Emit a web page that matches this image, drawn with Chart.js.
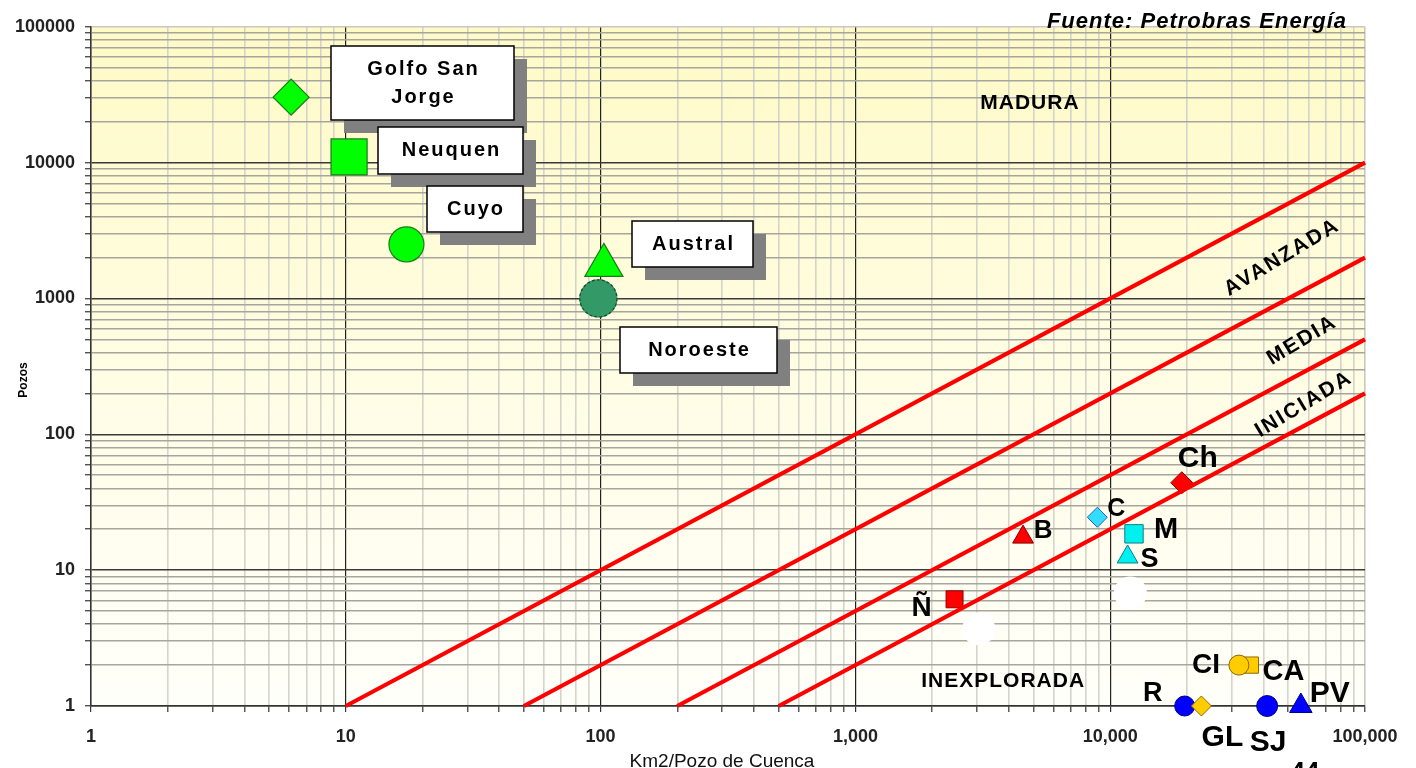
<!DOCTYPE html>
<html>
<head>
<meta charset="utf-8">
<script src="https://cdn.jsdelivr.net/npm/chart.js@4.4.1/dist/chart.umd.min.js"></script>
<style>
  html, body { margin: 0; padding: 0; background: #ffffff; }
  #wrap { width: 1416px; height: 768px; position: relative; }
</style>
</head>
<body>
<div id="wrap"><canvas id="c" width="1416" height="768"></canvas></div>
<script>
// Mature basins (km2 per well vs. number of wells)
const basinNames = ['Golfo San Jorge', 'Neuquen', 'Cuyo', 'Austral', 'Noroeste'];
const basinKm2PerWell = [6.1, 10.3, 17.3, 103, 98];
const basinWells = [30300, 11000, 2500, 1750, 1000];

// Frontier basins
const frontierCodes = ['Ch', 'B', 'C', 'M', 'S', 'Ñ', 'CA', 'CI', 'R', 'GL', 'SJ', 'PV'];
const frontierKm2PerWell = [19100, 4550, 8900, 12400, 11700, 2450, 35500, 32000, 19600, 22800, 41300, 56000];
const frontierWells = [44, 17.5, 24.5, 18.5, 12.5, 6.1, 2, 2, 1, 1, 1, 1];

// Blank (white) markers
const blankKm2PerWell = [3050, 12000];
const blankWells = [3.7, 6.8];

// Exploration stage boundaries: start on the x axis (wells = 1), end on the right edge
const boundaryStartKm2 = [10, 50, 200, 500];
const boundaryEndWells = [10000, 2000, 500, 200];
const boundaryEndKm2 = 100000;

// Stage names
const stageNames = ['MADURA', 'AVANZADA', 'MEDIA', 'INICIADA', 'INEXPLORADA'];

// Tick labels (one per decade)
const xTickLabels = ['1', '10', '100', '1,000', '10,000', '100,000'];
const yTickLabels = ['1', '10', '100', '1000', '10000', '100000'];

const FONT = "'Liberation Sans', Arial, Helvetica, sans-serif";
Chart.defaults.font.family = FONT;

function isDecade(v) {
  const l = Math.log10(v);
  return Math.abs(l - Math.round(l)) < 1e-9;
}
function decadeTicks() {
  const t = [];
  for (let e = 0; e <= 4; e++) {
    for (let m = 1; m <= 9; m++) t.push({ value: m * Math.pow(10, e) });
  }
  t.push({ value: 100000 });
  return t;
}

// Per-point styles
const basinStyles = {
  pointStyle: ['rectRot', 'rect', 'circle', 'triangle', 'circle'],
  radius: [18, 25.5, 17.5, 22, 18.5],
  bg: ['#00FF00', '#00FF00', '#00FF00', '#00FF00', '#339966'],
  border: ['#1c7a1c', '#1c7a1c', '#1c7a1c', '#1c7a1c', '#339966']
};
const RED = '#FF0000', DRED = '#8a0000', CY = '#00F0F0', DCY = '#0b7f86', LBL = '#33DDFF', DLB = '#2f5fbf';
const OR = '#FFCC00', DOR = '#8a6a00', BL = '#0000FF', DBL = '#00008a';
const frontierStyles = {
  pointStyle: ['rectRot', 'triangle', 'rectRot', 'rect', 'triangle', 'rect', 'rect', 'circle', 'circle', 'rectRot', 'circle', 'triangle'],
  radius:     [11, 12, 10, 13, 12, 12, 11.5, 10, 10, 10, 10.5, 13],
  bg:     [RED, RED, LBL, CY, CY, RED, OR, OR, BL, OR, BL, BL],
  border: [DRED, DRED, DLB, DCY, DCY, DRED, DOR, DOR, DBL, DOR, DBL, DBL]
};
// Label placement around each frontier marker: [dx, dy, font size]
const frontierLabelPos = {
  'Ch': [16, -24, 30], 'B': [20, -6, 26], 'C': [19, -8, 25], 'M': [32, -4, 29],
  'S': [22, 3, 27], 'Ñ': [-33, 9, 28], 'CA': [33, 7, 29], 'CI': [-33, 0, 28],
  'R': [-32, -12, 27], 'GL': [21, 32, 30], 'SJ': [1, 37, 30], 'PV': [29, -12, 30]
};

const boundaryDatasets = boundaryStartKm2.map((x0, i) => ({
  type: 'line',
  data: [{ x: x0, y: 1 }, { x: boundaryEndKm2, y: boundaryEndWells[i] }],
  borderColor: RED,
  borderWidth: 4.2,
  pointRadius: 0,
  fill: false,
  clip: false,
  order: 0
}));
const BASIN_DS = boundaryDatasets.length + 1;

const annotations = {
  id: 'annotations',
  beforeDraw(chart) {
    const { ctx, chartArea: a } = chart;
    ctx.save();
    ctx.fillStyle = '#ffffff';
    ctx.fillRect(0, 0, chart.width, chart.height);
    const g = ctx.createLinearGradient(0, a.top, 0, a.bottom);
    g.addColorStop(0, '#FFFAC6');
    g.addColorStop(0.55, '#FFFDE6');
    g.addColorStop(1, '#FFFFFA');
    ctx.fillStyle = g;
    ctx.fillRect(a.left, a.top, a.right - a.left, a.bottom - a.top);
    ctx.restore();
  },
  afterDatasetsDraw(chart) {
    const { ctx } = chart;
    const xs = chart.scales.x, ys = chart.scales.y;
    const px = v => xs.getPixelForValue(v), py = v => ys.getPixelForValue(v);
    ctx.save();

    // dashed outline on the Noroeste marker
    const nor = chart.getDatasetMeta(BASIN_DS).data[4];
    if (nor) {
      ctx.beginPath();
      ctx.setLineDash([3, 2]);
      ctx.strokeStyle = '#1d4d33';
      ctx.lineWidth = 1.3;
      ctx.arc(nor.x, nor.y, basinStyles.radius[4], 0, Math.PI * 2);
      ctx.stroke();
      ctx.setLineDash([]);
    }

    ctx.fillStyle = '#000';
    ctx.textAlign = 'center';
    ctx.textBaseline = 'middle';

    // Stage names
    ctx.font = 'bold 21px ' + FONT;
    ctx.letterSpacing = '1px';
    ctx.fillText(stageNames[0], px(4840), py(27200));
    ctx.fillText(stageNames[4], px(3800), py(1.53));
    ctx.letterSpacing = '2px';
    const rot = [[stageNames[1], 47200, 2000], [stageNames[2], 56600, 491], [stageNames[3], 57600, 166]];
    rot.forEach(([s, x, y]) => {
      ctx.save();
      ctx.translate(px(x), py(y));
      ctx.rotate(-31 * Math.PI / 180);
      ctx.fillText(s, 0, 0);
      ctx.restore();
    });

    // Basin name boxes with drop shadow
    const boxes = [
      { i: 0, x: 331, y: 46, w: 183, h: 74 },
      { i: 1, x: 378, y: 127, w: 145, h: 47 },
      { i: 2, x: 427, y: 186, w: 96, h: 46 },
      { i: 3, x: 632, y: 221, w: 121, h: 46 },
      { i: 4, x: 620, y: 327, w: 157, h: 46 }
    ];
    ctx.font = 'bold 20px ' + FONT;
    ctx.letterSpacing = '2px';
    boxes.forEach(b => {
      ctx.fillStyle = '#808080';
      ctx.fillRect(b.x + 13, b.y + 13, b.w, b.h);
      ctx.fillStyle = '#ffffff';
      ctx.fillRect(b.x, b.y, b.w, b.h);
      ctx.strokeStyle = '#000';
      ctx.lineWidth = 1.5;
      ctx.strokeRect(b.x, b.y, b.w, b.h);
      // wrap words to fit
      const words = basinNames[b.i].split(' ');
      const lines = [];
      let cur = '';
      words.forEach(w => {
        const t = cur ? cur + ' ' + w : w;
        if (cur && ctx.measureText(t).width > 140) { lines.push(cur); cur = w; } else cur = t;
      });
      lines.push(cur);
      ctx.fillStyle = '#000';
      const lh = 28, cy = b.y + b.h / 2 - (lines.length - 1) * lh / 2;
      lines.forEach((ln, k) => ctx.fillText(ln, b.x + b.w / 2 + 1, cy + k * lh));
    });

    // Frontier basin codes
    ctx.letterSpacing = '0px';
    frontierCodes.forEach((c, i) => {
      const p = frontierLabelPos[c];
      ctx.font = 'bold ' + p[2] + 'px ' + FONT;
      ctx.fillText(c, px(frontierKm2PerWell[i]) + p[0], py(frontierWells[i]) + p[1]);
    });

    // Source, axis titles, page number
    ctx.font = 'italic bold 22px ' + FONT;
    ctx.letterSpacing = '1px';
    ctx.textAlign = 'right';
    ctx.textBaseline = 'alphabetic';
    ctx.fillText('Fuente: Petrobras Energía', 1347, 28);
    ctx.letterSpacing = '0px';
    ctx.textAlign = 'center';
    ctx.font = '19px ' + FONT;
    ctx.fillStyle = '#111';
    ctx.fillText('Km2/Pozo de Cuenca', 722, 767);
    ctx.font = 'bold 26px ' + FONT;
    ctx.fillStyle = '#000';
    ctx.fillText('44', 1305, 780);
    ctx.save();
    ctx.translate(24, 380);
    ctx.rotate(-Math.PI / 2);
    ctx.font = 'bold 12px ' + FONT;
    ctx.textBaseline = 'middle';
    ctx.fillText('Pozos', 0, 0);
    ctx.restore();
    ctx.restore();
  }
};

function gridColor(major, minor, edge) {
  return ctx => {
    const v = ctx.tick ? ctx.tick.value : 1;
    if (v === 100000) return edge;
    return isDecade(v) ? major : minor;
  };
}

new Chart(document.getElementById('c'), {
  type: 'scatter',
  data: {
    datasets: [
      ...boundaryDatasets,
      {
        data: blankKm2PerWell.map((x, i) => ({ x, y: blankWells[i] })),
        pointStyle: 'circle',
        pointRadius: 16.5,
        backgroundColor: '#ffffff',
        borderColor: '#ffffff',
        borderWidth: 0,
        clip: false,
        order: 3
      },
      {
        data: basinKm2PerWell.map((x, i) => ({ x, y: basinWells[i] })),
        pointStyle: basinStyles.pointStyle,
        pointRadius: basinStyles.radius,
        backgroundColor: basinStyles.bg,
        borderColor: basinStyles.border,
        borderWidth: 1.2,
        clip: false,
        order: 2
      },
      {
        data: frontierKm2PerWell.map((x, i) => ({ x, y: frontierWells[i] })),
        pointStyle: frontierStyles.pointStyle,
        pointRadius: frontierStyles.radius,
        backgroundColor: frontierStyles.bg,
        borderColor: frontierStyles.border,
        borderWidth: 1,
        clip: false,
        order: 1
      }
    ]
  },
  options: {
    responsive: false,
    animation: false,
    devicePixelRatio: 1,
    layout: { padding: { top: 26, right: 51, left: 0, bottom: 0 } },
    plugins: { legend: { display: false }, tooltip: { enabled: false } },
    scales: {
      x: {
        type: 'logarithmic',
        min: 1,
        max: 100000,
        afterBuildTicks: s => { s.ticks = decadeTicks(); },
        afterFit: s => { s.height = 62; },
        grid: {
          color: gridColor('#222222', '#D4D4CA', '#C8C8C0'),
          lineWidth: ctx => (ctx.tick && isDecade(ctx.tick.value) && ctx.tick.value !== 100000) ? 1.2 : 1.6,
          tickColor: '#333',
          tickLength: 6,
          tickWidth: 1.2
        },
        border: { color: '#333', width: 1.5 },
        ticks: {
          autoSkip: false,
          maxRotation: 0,
          padding: 14,
          color: '#222',
          font: { size: 18, weight: 'bold' },
          callback: v => isDecade(v) ? xTickLabels[Math.round(Math.log10(v))] : ''
        }
      },
      y: {
        type: 'logarithmic',
        min: 1,
        max: 100000,
        afterBuildTicks: s => { s.ticks = decadeTicks(); },
        afterFit: s => { s.width = 91; },
        grid: {
          color: gridColor('#3a3a3a', '#A6A69E', '#C8C8C0'),
          lineWidth: 1.5,
          tickColor: '#333',
          tickLength: 6,
          tickWidth: 1.2
        },
        border: { color: '#333', width: 1.5 },
        ticks: {
          autoSkip: false,
          padding: 10,
          color: '#222',
          font: { size: 18, weight: 'bold' },
          callback: v => isDecade(v) ? yTickLabels[Math.round(Math.log10(v))] : ''
        }
      }
    }
  },
  plugins: [annotations]
});
</script>
</body>
</html>
